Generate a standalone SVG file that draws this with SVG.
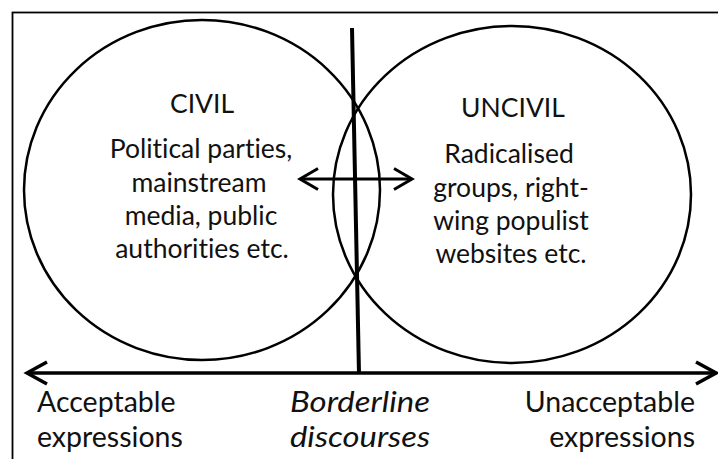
<svg xmlns="http://www.w3.org/2000/svg" width="718" height="459" viewBox="0 0 718 459">
  <style>
    .t { font-family: Lato, "Open Sans", "Liberation Sans", sans-serif; font-size: 26.5px; fill: #111; font-variant-ligatures: none; font-feature-settings: "liga" 0, "clig" 0; }
    .b { font-size: 28.5px; }
    .c { text-anchor: middle; }
    .i { font-style: italic; }
    .ell { fill: none; stroke: #000; stroke-width: 2.5; }
    .ln { fill: none; stroke: #000; stroke-linecap: butt; stroke-linejoin: miter; }
  </style>
  <rect x="0" y="0" width="718" height="459" fill="#fff"/>
  <rect x="12.5" y="12.5" width="720" height="470" fill="none" stroke="#000" stroke-width="1.8"/>
  <g id="civil">
    <ellipse class="ell" cx="202" cy="190" rx="178" ry="170"/>
    <text class="t c" x="202" y="113">CIVIL</text>
    <text class="t c" x="201" y="158">Political parties,</text>
    <text class="t c" x="199" y="192">mainstream</text>
    <text class="t c" x="201" y="225">media, public</text>
    <text class="t c" x="202" y="258">authorities etc.</text>
  </g>
  <g id="uncivil">
    <ellipse class="ell" cx="512" cy="194.5" rx="179" ry="168.5"/>
    <text class="t c" x="513" y="117">UNCIVIL</text>
    <text class="t c" x="509" y="163">Radicalised</text>
    <text class="t c" x="511" y="197">groups, right-</text>
    <text class="t c" x="511" y="230">wing populist</text>
    <text class="t c" x="511" y="263">websites etc.</text>
  </g>
  <g id="connectors">
    <line class="ln" x1="352" y1="28" x2="359" y2="374" stroke-width="4"/>
    <line class="ln" x1="27" y1="373" x2="716" y2="373" stroke-width="3.5"/>
    <polyline class="ln" points="47,362 27,373 47,384" stroke-width="3.5"/>
    <polyline class="ln" points="696,362 716,373 696,384" stroke-width="3.5"/>
    <line class="ln" x1="300" y1="179" x2="411" y2="179" stroke-width="3"/>
    <polyline class="ln" points="318,168.5 300,179 318,189.5" stroke-width="3"/>
    <polyline class="ln" points="394,168.5 412,179 394,189.5" stroke-width="3"/>
  </g>
  <g id="axis-labels">
    <text class="t b" x="37" y="412">Acceptable</text>
    <text class="t b" x="37" y="447">expressions</text>
    <text class="t b c i" x="360" y="412" textLength="140" lengthAdjust="spacingAndGlyphs">Borderline</text>
    <text class="t b c i" x="360" y="447" textLength="140" lengthAdjust="spacingAndGlyphs">discourses</text>
    <text class="t b" x="695" y="412" text-anchor="end">Unacceptable</text>
    <text class="t b" x="695" y="447" text-anchor="end">expressions</text>
  </g>
</svg>
